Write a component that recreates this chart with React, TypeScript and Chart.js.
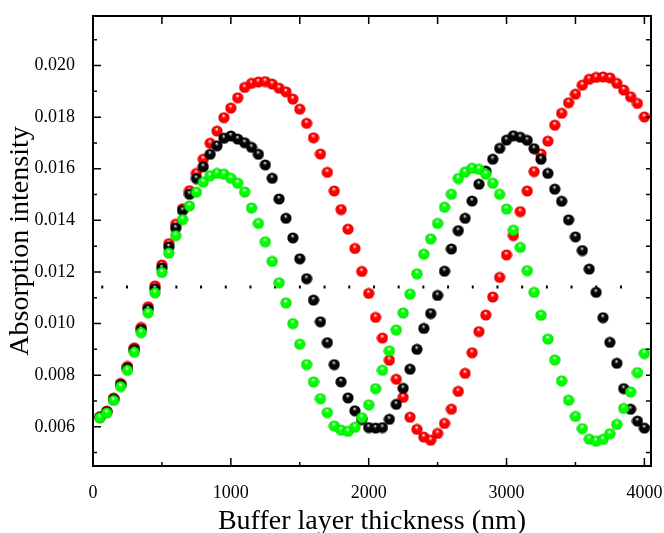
import React, { useEffect, useRef } from "react";
import { Chart, registerables } from "chart.js";

Chart.register(...registerables);

const thickness = [
  50, 100, 150, 200, 250, 300, 350, 400, 450, 500,
  550, 600, 650, 700, 750, 800, 850, 900, 950, 1000,
  1050, 1100, 1150, 1200, 1250, 1300, 1350, 1400, 1450, 1500,
  1550, 1600, 1650, 1700, 1750, 1800, 1850, 1900, 1950, 2000,
  2050, 2100, 2150, 2200, 2250, 2300, 2350, 2400, 2450, 2500,
  2550, 2600, 2650, 2700, 2750, 2800, 2850, 2900, 2950, 3000,
  3050, 3100, 3150, 3200, 3250, 3300, 3350, 3400, 3450, 3500,
  3550, 3600, 3650, 3700, 3750, 3800, 3850, 3900, 3950, 4000,
];

const seriesBlack = [
  0.00637, 0.00658, 0.00707, 0.00763, 0.00828, 0.00899, 0.00977, 0.01056, 0.01135, 0.01215,
  0.01297, 0.0137, 0.01438, 0.01501, 0.01562, 0.01608, 0.01656, 0.01689, 0.01718, 0.01727,
  0.01715, 0.01701, 0.01683, 0.01656, 0.01615, 0.01563, 0.01483, 0.01408, 0.01332, 0.01251,
  0.01174, 0.01091, 0.01007, 0.00926, 0.00841, 0.00774, 0.00712, 0.00662, 0.00628, 0.00597,
  0.00595, 0.00597, 0.00629, 0.00687, 0.00749, 0.00823, 0.009, 0.00981, 0.01039, 0.01109,
  0.01203, 0.01289, 0.0136, 0.01408, 0.01475, 0.0154, 0.01591, 0.01637, 0.01679, 0.01711,
  0.01728, 0.01722, 0.0171, 0.01678, 0.01637, 0.01582, 0.01521, 0.01474, 0.01402, 0.01336,
  0.01283, 0.01211, 0.01121, 0.01023, 0.00927, 0.00846, 0.00748, 0.00668, 0.00622, 0.00595,
];

const seriesRed = [
  0.00639, 0.00661, 0.00711, 0.00768, 0.00834, 0.00906, 0.00985, 0.01065, 0.01146, 0.01227,
  0.0131, 0.01385, 0.01445, 0.01515, 0.01582, 0.01637, 0.01699, 0.01746, 0.01798, 0.01835,
  0.01875, 0.01915, 0.01931, 0.01936, 0.01938, 0.01928, 0.01912, 0.01898, 0.0187, 0.01831,
  0.01776, 0.0172, 0.01657, 0.01586, 0.01514, 0.01442, 0.01366, 0.01291, 0.01202, 0.01117,
  0.01024, 0.00944, 0.00858, 0.00784, 0.00714, 0.00637, 0.0059, 0.0056, 0.00548, 0.00574,
  0.00613, 0.00668, 0.00737, 0.00807, 0.00887, 0.00969, 0.01033, 0.01103, 0.01179, 0.01266,
  0.01341, 0.01434, 0.01514, 0.01589, 0.01657, 0.01707, 0.01769, 0.01815, 0.01856, 0.01889,
  0.01924, 0.01947, 0.01954, 0.01956, 0.01952, 0.01931, 0.01905, 0.01879, 0.01853, 0.01801,
];

const seriesGreen = [
  0.00635, 0.00654, 0.00702, 0.00756, 0.00819, 0.00889, 0.00965, 0.01042, 0.01119, 0.01198,
  0.01273, 0.01341, 0.01403, 0.01456, 0.01509, 0.01548, 0.01573, 0.01582, 0.01579, 0.01563,
  0.01544, 0.0151, 0.01448, 0.01388, 0.01317, 0.01241, 0.01158, 0.0108, 0.01, 0.0092,
  0.00841, 0.00774, 0.00709, 0.00655, 0.00603, 0.00587, 0.00582, 0.00598, 0.00635, 0.00685,
  0.00748, 0.00819, 0.00894, 0.00975, 0.01041, 0.01114, 0.01193, 0.01269, 0.01328, 0.01388,
  0.01451, 0.01501, 0.01562, 0.01587, 0.01602, 0.01598, 0.01579, 0.01544, 0.01501, 0.01444,
  0.01362, 0.01295, 0.01205, 0.01121, 0.01032, 0.0094, 0.00859, 0.00778, 0.00703, 0.0064,
  0.00593, 0.00552, 0.00544, 0.00551, 0.00573, 0.00609, 0.00671, 0.00735, 0.0081, 0.00884,
];

const referenceLevel = 0.01142;
const referenceSpan = [60, 4000];

const xMajorTicks = [0, 1000, 2000, 3000, 4000];
const xMinorTicks = [500, 1500, 2500, 3500];
const yMajorTicks = [0.006, 0.008, 0.01, 0.012, 0.014, 0.016, 0.018, 0.02];
const yMinorTicks = [0.005, 0.007, 0.009, 0.011, 0.013, 0.015, 0.017, 0.019, 0.021];

const X_MIN = 0;
const X_MAX = 4048;
const Y_MIN = 0.00448;
const Y_MAX = 0.02192;

function makeBall(body: string, highlight: string, edge: string): HTMLCanvasElement {
  const size = 12;
  const c = document.createElement("canvas");
  c.width = size;
  c.height = size;
  const ctx = c.getContext("2d")!;
  const r = 5.6;
  const cx = 6;
  const cy = 6;
  const g = ctx.createRadialGradient(cx - 0.4, cy - 2.6, 0, cx, cy + 0.4, r);
  g.addColorStop(0, "#ffffff");
  g.addColorStop(0.14, highlight);
  g.addColorStop(0.38, body);
  g.addColorStop(0.78, body);
  g.addColorStop(1, edge);
  ctx.fillStyle = g;
  ctx.beginPath();
  ctx.arc(cx, cy, r, 0, Math.PI * 2);
  ctx.fill();
  return c;
}

const framePlugin = {
  id: "frameTicks",
  afterDatasetsDraw(chart: any) {
    const { ctx, chartArea, scales } = chart;
    const { left, right, top, bottom } = chartArea;
    const xs = scales.x;
    const ys = scales.y;
    ctx.save();
    ctx.strokeStyle = "#000";
    ctx.lineWidth = 1.5;
    ctx.beginPath();
    for (const v of xMajorTicks) {
      const px = xs.getPixelForValue(v);
      ctx.moveTo(px, bottom);
      ctx.lineTo(px, bottom - 8);
      ctx.moveTo(px, top);
      ctx.lineTo(px, top + 8);
    }
    for (const v of xMinorTicks) {
      const px = xs.getPixelForValue(v);
      ctx.moveTo(px, bottom);
      ctx.lineTo(px, bottom - 4);
      ctx.moveTo(px, top);
      ctx.lineTo(px, top + 8);
    }
    for (const v of yMajorTicks) {
      const py = ys.getPixelForValue(v);
      ctx.moveTo(left, py);
      ctx.lineTo(left + 8, py);
      ctx.moveTo(right, py);
      ctx.lineTo(right - 5, py);
    }
    for (const v of yMinorTicks) {
      const py = ys.getPixelForValue(v);
      ctx.moveTo(left, py);
      ctx.lineTo(left + 4, py);
      ctx.moveTo(right, py);
      ctx.lineTo(right - 5, py);
    }
    ctx.stroke();
    ctx.lineWidth = 2;
    ctx.strokeRect(left, top, right - left, bottom - top);
    ctx.restore();
  },
};

const zeroPadding = (scale: any) => {
  scale.paddingTop = 0;
  scale.paddingBottom = 0;
  scale.paddingLeft = 0;
  scale.paddingRight = 0;
};

export default function App() {
  const canvasRef = useRef<HTMLCanvasElement | null>(null);

  useEffect(() => {
    if (!canvasRef.current) return;
    const ballBlack = makeBall("#050505", "#9a9a9a", "#000000");
    const ballRed = makeBall("#ff0000", "#ffb0b0", "#c80000");
    const ballGreen = makeBall("#00ff00", "#c0ffc0", "#00c400");

    const toPoints = (ys: number[]) => thickness.map((x, i) => ({ x, y: ys[i] }));
    const family = "'Liberation Serif', 'Times New Roman', serif";
    const font = { family, size: 18 };

    const chart = new Chart(canvasRef.current, {
      type: "scatter",
      data: {
        datasets: [
          {
            label: "green",
            data: toPoints(seriesGreen),
            pointStyle: ballGreen as any,
            pointRadius: 5,
            showLine: false,
            order: 0,
          },
          {
            label: "black",
            data: toPoints(seriesBlack),
            pointStyle: ballBlack as any,
            pointRadius: 5,
            showLine: false,
            order: 1,
          },
          {
            label: "red",
            data: toPoints(seriesRed),
            pointStyle: ballRed as any,
            pointRadius: 5,
            showLine: false,
            order: 2,
          },
          {
            label: "level",
            data: referenceSpan.map((x) => ({ x, y: referenceLevel })),
            showLine: true,
            borderColor: "#000",
            borderWidth: 3,
            borderDash: [2, 22.7],
            borderCapStyle: "butt",
            pointRadius: 0,
            order: 3,
          },
        ],
      },
      options: {
        animation: false,
        responsive: false,
        devicePixelRatio: 1,
        layout: { padding: { top: 16, right: 13, left: 0, bottom: 0 } },
        plugins: { legend: { display: false }, tooltip: { enabled: false } },
        scales: {
          x: {
            type: "linear",
            position: "bottom",
            min: X_MIN,
            max: X_MAX,
            grid: { display: false },
            border: { display: false },
            afterBuildTicks: (scale: any) => {
              scale.ticks = xMajorTicks.map((value) => ({ value }));
            },
            afterFit: (scale: any) => {
              scale.height = 67;
              zeroPadding(scale);
            },
            ticks: {
              font,
              color: "#000",
              padding: 8,
              maxRotation: 0,
              autoSkip: false,
              callback: (v: any) => String(v),
            },
            title: {
              display: true,
              text: "Buffer layer thickness (nm)",
              color: "#000",
              font: { family, size: 28, lineHeight: 0.8 },
              padding: { top: 0, bottom: 0 },
            },
          },
          y: {
            type: "linear",
            position: "left",
            min: Y_MIN,
            max: Y_MAX,
            grid: { display: false },
            border: { display: false },
            afterBuildTicks: (scale: any) => {
              scale.ticks = yMajorTicks.map((value) => ({ value }));
            },
            afterFit: (scale: any) => {
              scale.width = 93;
              zeroPadding(scale);
            },
            ticks: {
              font,
              color: "#000",
              padding: 10,
              autoSkip: false,
              callback: (v: any) => Number(v).toFixed(3),
            },
            title: {
              display: true,
              text: "Absorption intensity",
              color: "#000",
              font: { family, size: 28, lineHeight: 1 },
              padding: { top: 7, bottom: 0 },
            },
          },
        },
      },
      plugins: [framePlugin],
    } as any);

    return () => chart.destroy();
  }, []);

  return (
    <div style={{ position: "absolute", left: 0, top: 0, width: 664, height: 533, background: "#fff" }}>
      <canvas ref={canvasRef} width={664} height={533} style={{ width: 664, height: 533 }} />
    </div>
  );
}
